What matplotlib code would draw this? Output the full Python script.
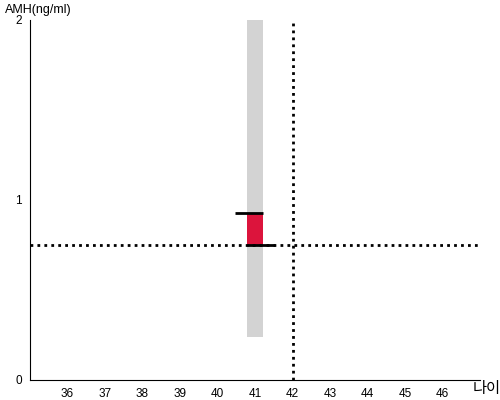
import matplotlib
matplotlib.use('Agg')
import matplotlib.pyplot as plt

plt.rcParams['font.family'] = ['Liberation Sans', 'Noto Sans CJK KR', 'DejaVu Sans']

# data
age = 41
age_ref = 42
amh_ref = 0.75
band_low, band_high = 0.24, 2.0
amh_value = 0.93
x_ticks = list(range(36, 47))
y_ticks = [0, 1, 2]
bar_w = 0.43

fig = plt.figure(figsize=(5, 4), dpi=100)
ax = fig.add_axes([0.06, 0.05, 0.90, 0.90])

# grey range band
ax.bar(age, band_high - band_low, bottom=band_low, width=bar_w, color='#d3d3d3', zorder=1)
# red value bar
ax.bar(age, amh_value - amh_ref, bottom=amh_ref, width=bar_w, color='#dc143c', zorder=2)
# black markers
ax.hlines(amh_value, age - 0.54, age + bar_w / 2, color='black', lw=2, zorder=3)
ax.hlines(amh_ref, age - bar_w / 2, age + 0.54, color='black', lw=2, zorder=3)

# reference lines
ax.axhline(amh_ref, color='black', ls=(0, (1, 1.5)), lw=2, zorder=4)
ax.axvline(age_ref, color='black', ls=(0, (1, 1.5)), lw=2, zorder=4)

ax.set_xlim(35, 47)
ax.set_ylim(0, 2)
ax.set_xticks(x_ticks)
ax.set_yticks(y_ticks)
ax.tick_params(length=0, labelsize=8.5, pad=6)
ax.spines['top'].set_visible(False)
ax.spines['right'].set_visible(False)

fig.text(0.01, 0.975, 'AMH(ng/ml)', fontsize=9, va='center', ha='left')
fig.text(0.974, 0.028, '나이', fontsize=11, va='center', ha='center')

fig.savefig('out.png', dpi=100)
